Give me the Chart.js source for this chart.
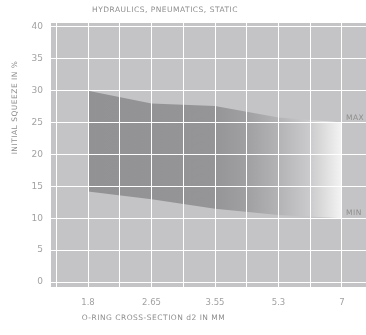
<!DOCTYPE html>
<html><head><meta charset="utf-8">
<script src="https://cdn.jsdelivr.net/npm/chart.js@4/dist/chart.umd.min.js"></script>
<style>html,body{margin:0;padding:0;background:#fff;}canvas{display:block;}</style>
</head><body>
<canvas id="c" width="366" height="335"></canvas>
<script>
// ---- data ----
const categories = ['1.8', '2.65', '3.55', '5.3', '7'];
const maxSqueeze = [30, 28, 27.6, 25.8, 25];
const minSqueeze = [14.2, 13, 11.5, 10.5, 10];
const yTicks = [0, 5, 10, 15, 20, 25, 30, 35, 40];
const chartTitle = 'HYDRAULICS, PNEUMATICS, STATIC';
const xTitle = 'O-RING CROSS-SECTION d2 IN MM';
const yTitle = 'INITIAL SQUEEZE IN %';
const maxLabel = 'MAX';
const minLabel = 'MIN';

const FONT = '"DejaVu Sans", sans-serif';
const textColor = '#8e8e8e';
const tickColor = '#a2a2a2';

function bandGradient(ctx) {
  const chart = ctx.chart;
  const { chartArea, scales } = chart;
  if (!chartArea) return '#939395';
  const x0 = scales.x.getPixelForValue(0);
  const x1 = scales.x.getPixelForValue(categories.length - 1);
  const g = chart.ctx.createLinearGradient(x0, 0, x1, 0);
  g.addColorStop(0, '#929294');
  g.addColorStop(0.5, '#959597');
  g.addColorStop(0.625, '#a0a0a2');
  g.addColorStop(0.75, '#b3b3b5');
  g.addColorStop(0.875, '#cbcbcd');
  g.addColorStop(1, '#f4f4f4');
  return g;
}

const bgPlugin = {
  id: 'bg',
  beforeDraw(chart) {
    const { ctx, chartArea: a } = chart;
    ctx.save();
    ctx.fillStyle = '#c4c4c6';
    ctx.fillRect(a.left, a.top, a.right - a.left, a.bottom - a.top);
    ctx.restore();
  }
};

const textPlugin = {
  id: 'texts',
  afterDraw(chart) {
    const { ctx, scales } = chart;
    ctx.save();
    ctx.letterSpacing = '0.5px';
    ctx.fillStyle = textColor;
    ctx.textBaseline = 'middle';
    ctx.font = '7.5px ' + FONT;
    ctx.textAlign = 'center';
    ctx.fillText(chartTitle, 165, 10);
    ctx.fillText(xTitle, 153.5, 318.5);
    ctx.save();
    ctx.translate(15, 107.5);
    ctx.rotate(-Math.PI / 2);
    ctx.fillText(yTitle, 0, 0);
    ctx.restore();
    ctx.textAlign = 'left';
    const last = categories.length - 1;
    const lx = scales.x.getPixelForValue(last) + 4;
    ctx.fillText(maxLabel, lx, scales.y.getPixelForValue(maxSqueeze[last]) - 5);
    ctx.fillText(minLabel, lx, scales.y.getPixelForValue(minSqueeze[last]) - 5.5);
    ctx.restore();
  }
};

new Chart(document.getElementById('c'), {
  type: 'line',
  data: {
    datasets: [
      {
        label: 'MIN',
        data: minSqueeze.map((v, i) => ({ x: i, y: v })),
        borderWidth: 0,
        pointRadius: 0,
        fill: false,
        tension: 0
      },
      {
        label: 'MAX',
        data: maxSqueeze.map((v, i) => ({ x: i, y: v })),
        borderWidth: 0,
        pointRadius: 0,
        fill: '-1',
        backgroundColor: bandGradient,
        tension: 0
      }
    ]
  },
  options: {
    responsive: false,
    animation: false,
    layout: { padding: { top: 23, left: 0, right: 0, bottom: 0 } },
    plugins: { legend: { display: false }, tooltip: { enabled: false }, title: { display: false } },
    scales: {
      x: {
        type: 'linear',
        min: -0.583,
        max: 4.378,
        afterFit(s) { s.height = 48; },
        afterBuildTicks(s) {
          const t = [];
          for (let v = -0.5; v <= categories.length - 1 + 0.001; v += 0.5) t.push({ value: v });
          s.ticks = t;
        },
        grid: { color: '#ffffff', lineWidth: 1, drawTicks: false, z: 1 },
        border: { display: false },
        ticks: {
          autoSkip: false,
          maxRotation: 0,
          padding: 11,
          color: tickColor,
          font: { family: FONT, size: 8.5 },
          callback: (v) => Number.isInteger(v) && categories[v] !== undefined ? categories[v] : ''
        }
      },
      y: {
        min: -0.784,
        max: 40.627,
        afterFit(s) { s.width = 51; },
        afterBuildTicks(s) { s.ticks = yTicks.map(v => ({ value: v })); },
        grid: { color: '#ffffff', lineWidth: 1, drawTicks: false, z: 1 },
        border: { display: false },
        ticks: {
          padding: 8,
          color: tickColor,
          font: { family: FONT, size: 9 },
          callback: (v) => String(v)
        }
      }
    }
  },
  plugins: [bgPlugin, textPlugin]
});
</script>
</body></html>
